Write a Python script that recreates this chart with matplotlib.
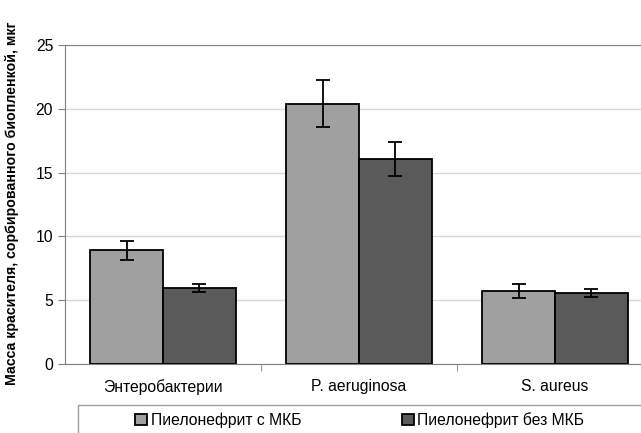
import matplotlib.pyplot as plt
import numpy as np
from matplotlib.patches import Rectangle

plt.rcParams['font.family'] = ['Liberation Sans', 'DejaVu Sans']

categories = ['Энтеробактерии', 'P. aeruginosa', 'S. aureus']
series_names = ['Пиелонефрит с МКБ', 'Пиелонефрит без МКБ']
with_mkb = [8.9, 20.4, 5.7]
with_mkb_err = [0.75, 1.83, 0.56]
without_mkb = [5.93, 16.05, 5.56]
without_mkb_err = [0.32, 1.32, 0.3]

fig = plt.figure(figsize=(6.41, 4.33), dpi=100)
ax = fig.add_axes([65 / 641, 69 / 433, 588 / 641, 319 / 433])

x = np.arange(len(categories))
w = 0.372
err_kw = dict(ecolor='black', elinewidth=1.3, capsize=5, capthick=1.3)
ax.bar(x - w / 2, with_mkb, w, yerr=with_mkb_err, color='#a0a0a0',
       edgecolor='black', linewidth=1.3, error_kw=err_kw, zorder=3,
       label=series_names[0])
ax.bar(x + w / 2, without_mkb, w, yerr=without_mkb_err, color='#5a5a5a',
       edgecolor='black', linewidth=1.3, error_kw=err_kw, zorder=3,
       label=series_names[1])

ax.set_xlim(-0.5, 2.5)
ax.set_ylim(0, 25)
ax.set_yticks([0, 5, 10, 15, 20, 25])
ax.yaxis.grid(True, color='#d8d8d8', linewidth=1, zorder=0)
ax.set_xticks(x)
ax.set_xticklabels(categories, fontsize=11.3)
ax.set_xticks([0.5, 1.5], minor=True)
ax.tick_params(axis='x', which='major', length=0, pad=11)
ax.tick_params(axis='x', which='minor', length=5, color='#808080')
ax.tick_params(axis='y', labelsize=11.3, length=5, color='#808080', direction='out')
for side in ['left', 'bottom', 'top']:
    ax.spines[side].set_color('#808080')
ax.spines['right'].set_visible(False)

fig.text(12 / 641, 1 - 203 / 433, 'Масса красителя, сорбированного биопленкой, мкг',
         rotation=90, ha='center', va='center', fontsize=10.2, fontweight='bold')

fig.patches.append(Rectangle((78 / 641, -0.05), 0.95, (433 - 405) / 433 + 0.05,
                             transform=fig.transFigure, facecolor='white',
                             edgecolor='#a0a0a0', linewidth=1))
fig.legend(loc='center left', bbox_to_anchor=(121 / 641, 13 / 433), ncol=2,
           frameon=False, fontsize=11.3, handlelength=0.75, handleheight=0.75,
           handletextpad=0.25, columnspacing=6.4)

fig.savefig('out.png', dpi=100)
